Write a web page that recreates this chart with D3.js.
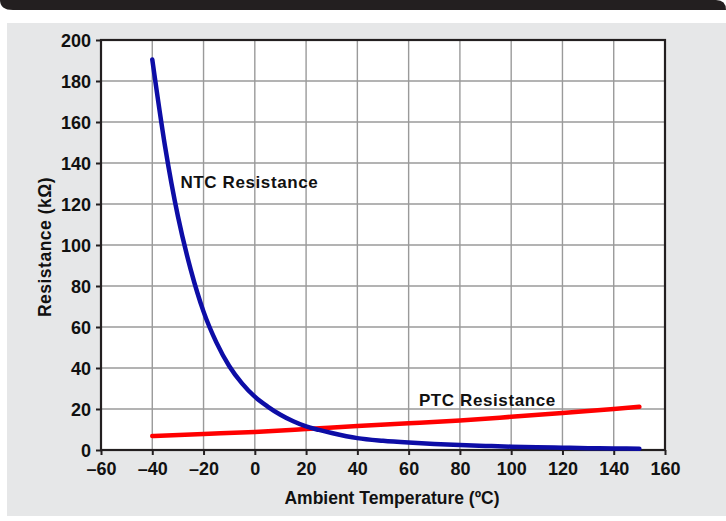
<!DOCTYPE html>
<html><head><meta charset="utf-8">
<script src="https://cdn.jsdelivr.net/npm/d3@7"></script>
<style>body{margin:0;background:#fff}svg{display:block}text{font-family:"Liberation Sans",Arial,sans-serif;font-weight:bold;fill:#111}</style>
</head><body>
<script>
const ntcTemp = [-40,-35,-30,-25,-20,-15,-10,-5,0,5,10,15,20,25,30,40,50,60,70,80,90,100,110,120,130,140,150];
const ntcRes  = [190.5,148,114,88,67.5,52.5,41,32.5,26,21.2,17.2,14,11.5,9.8,8.3,5.8,4.5,3.6,2.9,2.4,2.0,1.6,1.35,1.1,0.9,0.75,0.6];
const ptcTemp = [-40,-20,0,20,40,60,80,100,120,140,150];
const ptcRes  = [6.8,7.8,8.8,10.2,11.7,13,14.4,16.2,18.1,20,21.1];
const xTicks = [-60,-40,-20,0,20,40,60,80,100,120,140,160];
const yTicks = [0,20,40,60,80,100,120,140,160,180,200];
const labels = [{text:"NTC Resistance", t:-29, r:128}, {text:"PTC Resistance", t:64, r:21.5}];

const W=726,H=521;
const svg=d3.select("body").append("svg").attr("width",W).attr("height",H);
svg.append("path").attr("d","M0,0 L716,0 Q726,0 726,10 L13,10 Q0,10 0,0 Z").attr("fill","#231f20");
svg.append("rect").attr("x",7).attr("y",23).attr("width",W-7).attr("height",493).attr("fill","#e6e7e8");

const x=d3.scaleLinear().domain([-60,160]).range([101,665]);
const y=d3.scaleLinear().domain([0,200]).range([450,40]);

svg.append("rect").attr("x",x(-60)).attr("y",y(200)).attr("width",x(160)-x(-60)).attr("height",y(0)-y(200)).attr("fill","#fff");
const g=svg.append("g");
g.selectAll(".vg").data(xTicks.slice(1,-1)).join("line").attr("x1",d=>x(d)).attr("x2",d=>x(d)).attr("y1",y(0)).attr("y2",y(200)).attr("stroke","#9a9a9a").attr("stroke-width",1.4);
g.selectAll(".hg").data(yTicks.slice(1,-1)).join("line").attr("y1",d=>y(d)).attr("y2",d=>y(d)).attr("x1",x(-60)).attr("x2",x(160)).attr("stroke","#9a9a9a").attr("stroke-width",1.4);

const fmt=d=>d<0?"\u2013"+Math.abs(d):String(d);
const xAxis=svg.append("g").attr("transform",`translate(0,${y(0)})`).call(d3.axisBottom(x).tickValues(xTicks).tickFormat(fmt).tickSize(5).tickPadding(4));
const yAxis=svg.append("g").attr("transform",`translate(${x(-60)},0)`).call(d3.axisLeft(y).tickValues(yTicks).tickSize(5).tickPadding(5));
[xAxis,yAxis].forEach(a=>{a.select(".domain").remove();a.selectAll("line").attr("stroke","#231f20").attr("stroke-width",2);a.selectAll("text").style("font-size","18px").style("font-family","Liberation Sans, Arial, sans-serif").style("font-weight","bold").attr("fill","#111");});
xAxis.selectAll("text").attr("dy","0.9em");
yAxis.selectAll("text").attr("dy","0.36em");

svg.append("rect").attr("x",x(-60)).attr("y",y(200)).attr("width",x(160)-x(-60)).attr("height",y(0)-y(200)).attr("fill","none").attr("stroke","#231f20").attr("stroke-width",2.2);

const line=d3.line().x(d=>x(d[0])).y(d=>y(d[1])).curve(d3.curveMonotoneX);
svg.append("path").datum(ptcTemp.map((t,i)=>[t,ptcRes[i]])).attr("d",line).attr("fill","none").attr("stroke","#ff0000").attr("stroke-width",4.5).attr("stroke-linecap","round");
svg.append("path").datum(ntcTemp.map((t,i)=>[t,ntcRes[i]])).attr("d",line).attr("fill","none").attr("stroke","#0d0da6").attr("stroke-width",4.5).attr("stroke-linecap","round");

svg.selectAll(".lbl").data(labels).join("text").attr("x",d=>x(d.t)).attr("y",d=>y(d.r)).text(d=>d.text).style("font-size","17px").attr("letter-spacing","0.6px");

svg.append("text").attr("x",392).attr("y",504).attr("text-anchor","middle").style("font-size","17.5px").text("Ambient Temperature (ºC)");
svg.append("text").attr("transform","translate(51,247) rotate(-90)").attr("text-anchor","middle").style("font-size","17.5px").attr("letter-spacing","0.5px").text("Resistance (k\u03A9)");
</script>
</body></html>
